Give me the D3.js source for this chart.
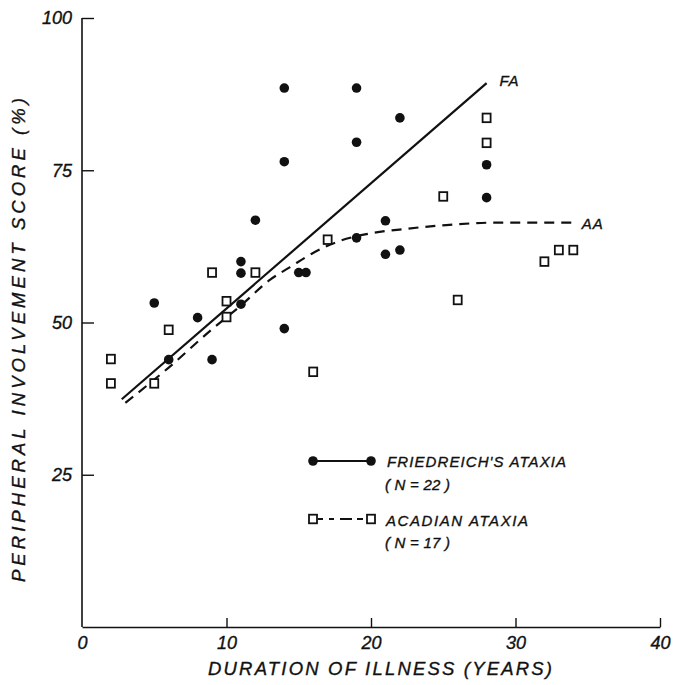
<!DOCTYPE html>
<html>
<head>
<meta charset="utf-8">
<script src="https://cdn.jsdelivr.net/npm/d3@7"></script>
<style>
  html, body { margin: 0; padding: 0; background: #fff; }
  svg { display: block; }
  text { font-family: "Liberation Sans", Arial, sans-serif; font-style: italic; fill: #111; stroke: #111; stroke-width: 0.35px; }
</style>
</head>
<body>
<svg id="chart" width="673" height="685"></svg>
<script>
// ---- Data ----
const faX = [5, 6, 8, 9, 11, 11, 11, 12, 14, 14, 14, 15, 15.5, 19, 19, 19, 21, 21, 22, 22, 28, 28];
const faY = [53.2, 43.9, 50.8, 43.9, 60, 58.1, 53, 66.8, 88.5, 76.4, 49, 58.2, 58.2, 88.5, 79.6, 63.9, 66.7, 61.2, 83.6, 61.9, 75.9, 70.5];

const aaX = [2, 2, 5, 6, 9, 10, 10, 12, 16, 17, 25, 26, 28, 28, 32, 33, 34];
const aaY = [44, 40, 40, 48.8, 58.2, 53.5, 50.9, 58.2, 41.9, 63.6, 70.7, 53.7, 83.6, 79.5, 60, 61.9, 61.9];

const faLineX = [2.75, 28];
const faLineY = [37.4, 89.3];

const aaCurveX = [3, 6, 9, 11, 13, 14.4, 15.9, 17.85, 19.9, 22.5, 25.2, 28.7, 34.1];
const aaCurveY = [36.8, 42.6, 48.9, 52.8, 57.0, 59.1, 61.3, 63.4, 64.6, 65.4, 66.0, 66.4, 66.4];

const xTicks = [0, 10, 20, 30, 40];
const yTicks = [25, 50, 75, 100];

const xTitle = "DURATION OF ILLNESS (YEARS)";
const yTitle = "PERIPHERAL INVOLVEMENT SCORE (%)";
const legendLabels = ["FRIEDREICH'S ATAXIA", "ACADIAN ATAXIA"];
const legendCounts = ["( N = 22 )", "( N = 17 )"];
const lineLabels = ["FA", "AA"];

// ---- Drawing ----
const svg = d3.select("#chart");
const x = d3.scaleLinear().domain([0, 40]).range([82, 660]);
const y = d3.scaleLinear().domain([0, 100]).range([627, 18]);

// axes
const yAxis = d3.axisLeft(y).tickValues(yTicks).tickSizeInner(-12).tickSizeOuter(0).tickPadding(10);
const gy = svg.append("g").attr("transform", `translate(${x(0)},0)`).call(yAxis);
gy.select(".domain").attr("stroke", "#111").attr("stroke-width", 1.6).attr("d", `M0,${y(0)}V${y(100)}`);
gy.selectAll(".tick line").attr("stroke", "#111").attr("stroke-width", 1.4);
gy.selectAll(".tick text").attr("font-size", 18).attr("font-family", "Liberation Sans, Arial, sans-serif")
  .attr("font-style", "italic").attr("fill", "#111");

const xAxis = d3.axisBottom(x).tickValues(xTicks).tickSizeInner(-9).tickSizeOuter(0).tickPadding(9);
const gx = svg.append("g").attr("transform", `translate(0,${y(0)})`).call(xAxis);
gx.select(".domain").attr("stroke", "#111").attr("stroke-width", 1.6);
gx.selectAll(".tick line").attr("stroke", "#111").attr("stroke-width", 1.4)
  .attr("display", d => d === 0 ? "none" : null);
gx.selectAll(".tick text").attr("font-size", 18).attr("font-family", "Liberation Sans, Arial, sans-serif")
  .attr("font-style", "italic").attr("fill", "#111");

// axis titles
svg.append("text")
  .attr("x", 208).attr("y", 675)
  .attr("font-size", 18.5)
  .attr("textLength", 344).attr("lengthAdjust", "spacing")
  .text(xTitle);

svg.append("text")
  .attr("transform", "translate(25,582) rotate(-90)")
  .attr("x", 0).attr("y", 0)
  .attr("font-size", 18.5)
  .attr("textLength", 484).attr("lengthAdjust", "spacing")
  .text(yTitle);

// fit lines
const faLineData = faLineX.map((v, i) => [v, faLineY[i]]);
const aaCurveData = aaCurveX.map((v, i) => [v, aaCurveY[i]]);
const line = d3.line().x(d => x(d[0])).y(d => y(d[1]));
const curve = d3.line().x(d => x(d[0])).y(d => y(d[1])).curve(d3.curveMonotoneX);

svg.append("path").attr("d", line(faLineData))
  .attr("fill", "none").attr("stroke", "#111").attr("stroke-width", 2.2);
svg.append("path").attr("d", curve(aaCurveData))
  .attr("fill", "none").attr("stroke", "#111").attr("stroke-width", 2.2)
  .attr("stroke-dasharray", "10,7");

// line end labels
const faEnd = faLineData[faLineData.length - 1];
const aaEnd = aaCurveData[aaCurveData.length - 1];
svg.append("text").attr("x", x(faEnd[0]) + 13).attr("y", y(faEnd[1]) + 3)
  .attr("font-size", 15).attr("textLength", 19).attr("lengthAdjust", "spacing").text(lineLabels[0]);
svg.append("text").attr("x", x(aaEnd[0]) + 7).attr("y", y(aaEnd[1]) + 6)
  .attr("font-size", 15).attr("textLength", 21).attr("lengthAdjust", "spacing").text(lineLabels[1]);

// points
const faData = faX.map((v, i) => [v, faY[i]]);
const aaData = aaX.map((v, i) => [v, aaY[i]]);

svg.append("g").selectAll("circle").data(faData).join("circle")
  .attr("cx", d => x(d[0])).attr("cy", d => y(d[1])).attr("r", 4.8)
  .attr("fill", "#111");

svg.append("g").selectAll("rect").data(aaData).join("rect")
  .attr("x", d => x(d[0]) - 4).attr("y", d => y(d[1]) - 4.3)
  .attr("width", 8).attr("height", 8.6)
  .attr("fill", "#fff").attr("stroke", "#111").attr("stroke-width", 1.8);

// legend
const lg = svg.append("g");
const lx0 = 313, lx1 = 371;
lg.append("line").attr("x1", lx0).attr("x2", lx1).attr("y1", 461).attr("y2", 461)
  .attr("stroke", "#111").attr("stroke-width", 2.2);
lg.selectAll("circle").data([lx0, lx1]).join("circle")
  .attr("cx", d => d).attr("cy", 461).attr("r", 4.8).attr("fill", "#111");
lg.append("line").attr("x1", lx0 + 5).attr("x2", lx1 - 4).attr("y1", 519).attr("y2", 519)
  .attr("stroke", "#111").attr("stroke-width", 2.2).attr("stroke-dasharray", "5,6,5,6,12");
lg.selectAll("rect").data([lx0, lx1]).join("rect")
  .attr("x", d => d - 4).attr("y", 519 - 4.3).attr("width", 8).attr("height", 8.6)
  .attr("fill", "#fff").attr("stroke", "#111").attr("stroke-width", 1.8);

lg.append("text").attr("x", 387).attr("y", 467).attr("font-size", 15)
  .attr("textLength", 179).attr("lengthAdjust", "spacing").text(legendLabels[0]);
lg.append("text").attr("x", 385).attr("y", 490).attr("font-size", 15)
  .attr("textLength", 65).attr("lengthAdjust", "spacing").text(legendCounts[0]);
lg.append("text").attr("x", 386).attr("y", 526).attr("font-size", 15)
  .attr("textLength", 142).attr("lengthAdjust", "spacing").text(legendLabels[1]);
lg.append("text").attr("x", 385).attr("y", 548).attr("font-size", 15)
  .attr("textLength", 65).attr("lengthAdjust", "spacing").text(legendCounts[1]);
</script>
</body>
</html>
